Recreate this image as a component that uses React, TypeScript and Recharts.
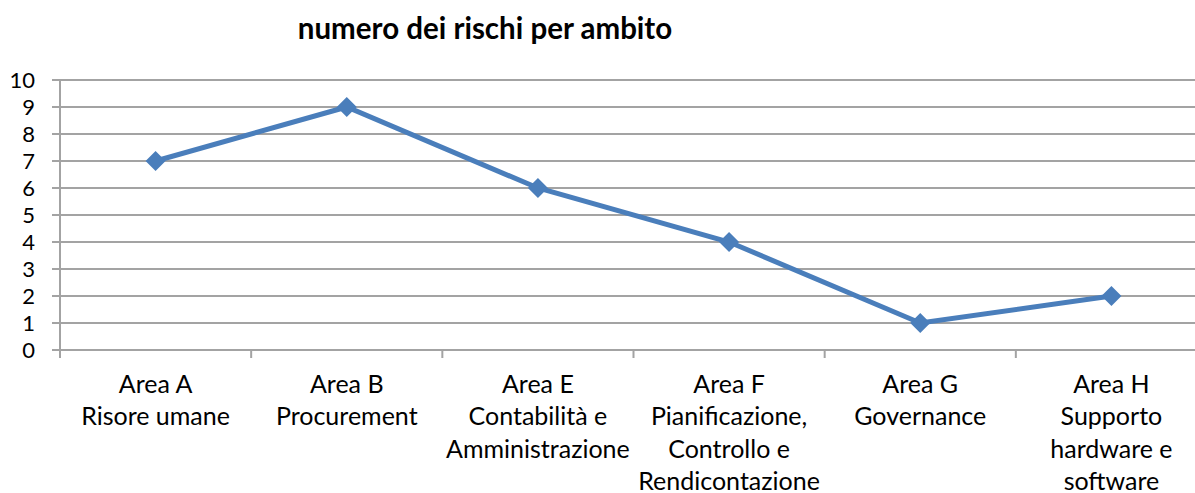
import { LineChart, Line, XAxis, YAxis, CartesianGrid } from "recharts";

const categories = [
  "Area A\nRisore umane",
  "Area B\nProcurement",
  "Area E\nContabilità e\nAmministrazione",
  "Area F\nPianificazione,\nControllo e\nRendicontazione",
  "Area G\nGovernance",
  "Area H\nSupporto\nhardware e\nsoftware",
];
const rischi = [7, 9, 6, 4, 1, 2];
const yTicks = [0, 1, 2, 3, 4, 5, 6, 7, 8, 9, 10];

const data = categories.map((c, i) => ({ area: c, rischi: rischi[i] }));

const FONT = "Lato, 'Open Sans', sans-serif";
const GRID = "#a3a3a3";
const BLUE = "#4a7ebb";
const CHART_W = 1210;
const CHART_H = 500;
const LEFT = 60;
const RIGHT = 3;
const HALF_BAND = (CHART_W - LEFT - RIGHT) / categories.length / 2;

function AreaTick(props: any) {
  const { x, y, payload } = props;
  const lines = String(payload.value).split("\n");
  return (
    <g>
      <line x1={x - HALF_BAND} x2={x - HALF_BAND} y1={y - 9} y2={y} stroke={GRID} strokeWidth={2} />
      <text x={x} y={y} textAnchor="middle" fontFamily={FONT} fontSize={25} fill="#000">
        {lines.map((l, i) => (
          <tspan key={i} x={x} y={y + 35 + i * 32.3}>{l}</tspan>
        ))}
      </text>
    </g>
  );
}

function Diamond(props: any) {
  const { cx, cy } = props;
  if (cx == null || cy == null) return null;
  const r = 10;
  return (
    <polygon
      points={`${cx},${cy - r} ${cx + r},${cy} ${cx},${cy + r} ${cx - r},${cy}`}
      fill={BLUE}
    />
  );
}

export default function App() {
  return (
    <div style={{ position: "fixed", top: 0, left: 0, width: 1195, height: 493, overflow: "hidden", background: "#fff" }}>
      <div
        style={{
          position: "absolute", top: 12, left: 485, transform: "translateX(-50%)", lineHeight: "32px",
          fontFamily: FONT, fontWeight: 700, fontSize: 29.5, whiteSpace: "nowrap", color: "#000",
        }}
      >
        numero dei rischi per ambito
      </div>
      <LineChart width={CHART_W} height={CHART_H} data={data} margin={{ top: 80, right: RIGHT, bottom: 0, left: 0 }}>
        <CartesianGrid vertical={false} stroke={GRID} strokeWidth={2} />
        <XAxis
          dataKey="area"
          height={150}
          interval={0}
          padding={{ left: HALF_BAND, right: HALF_BAND }}
          axisLine={{ stroke: GRID, strokeWidth: 2 }}
          tickLine={false}
          tick={<AreaTick />}
        />
        <YAxis
          domain={[0, 10]}
          ticks={yTicks}
          width={LEFT}
          interval={0}
          axisLine={{ stroke: GRID, strokeWidth: 2 }}
          tickLine={{ stroke: GRID, strokeWidth: 2 }}
          tickSize={8}
          tickMargin={17}
          tick={{ fontFamily: FONT, fontSize: 22, fill: "#000" }}
        />
        <Line
          dataKey="rischi"
          type="linear"
          stroke={BLUE}
          strokeWidth={5}
          dot={<Diamond />}
          activeDot={false}
          isAnimationActive={false}
        />
      </LineChart>
    </div>
  );
}
